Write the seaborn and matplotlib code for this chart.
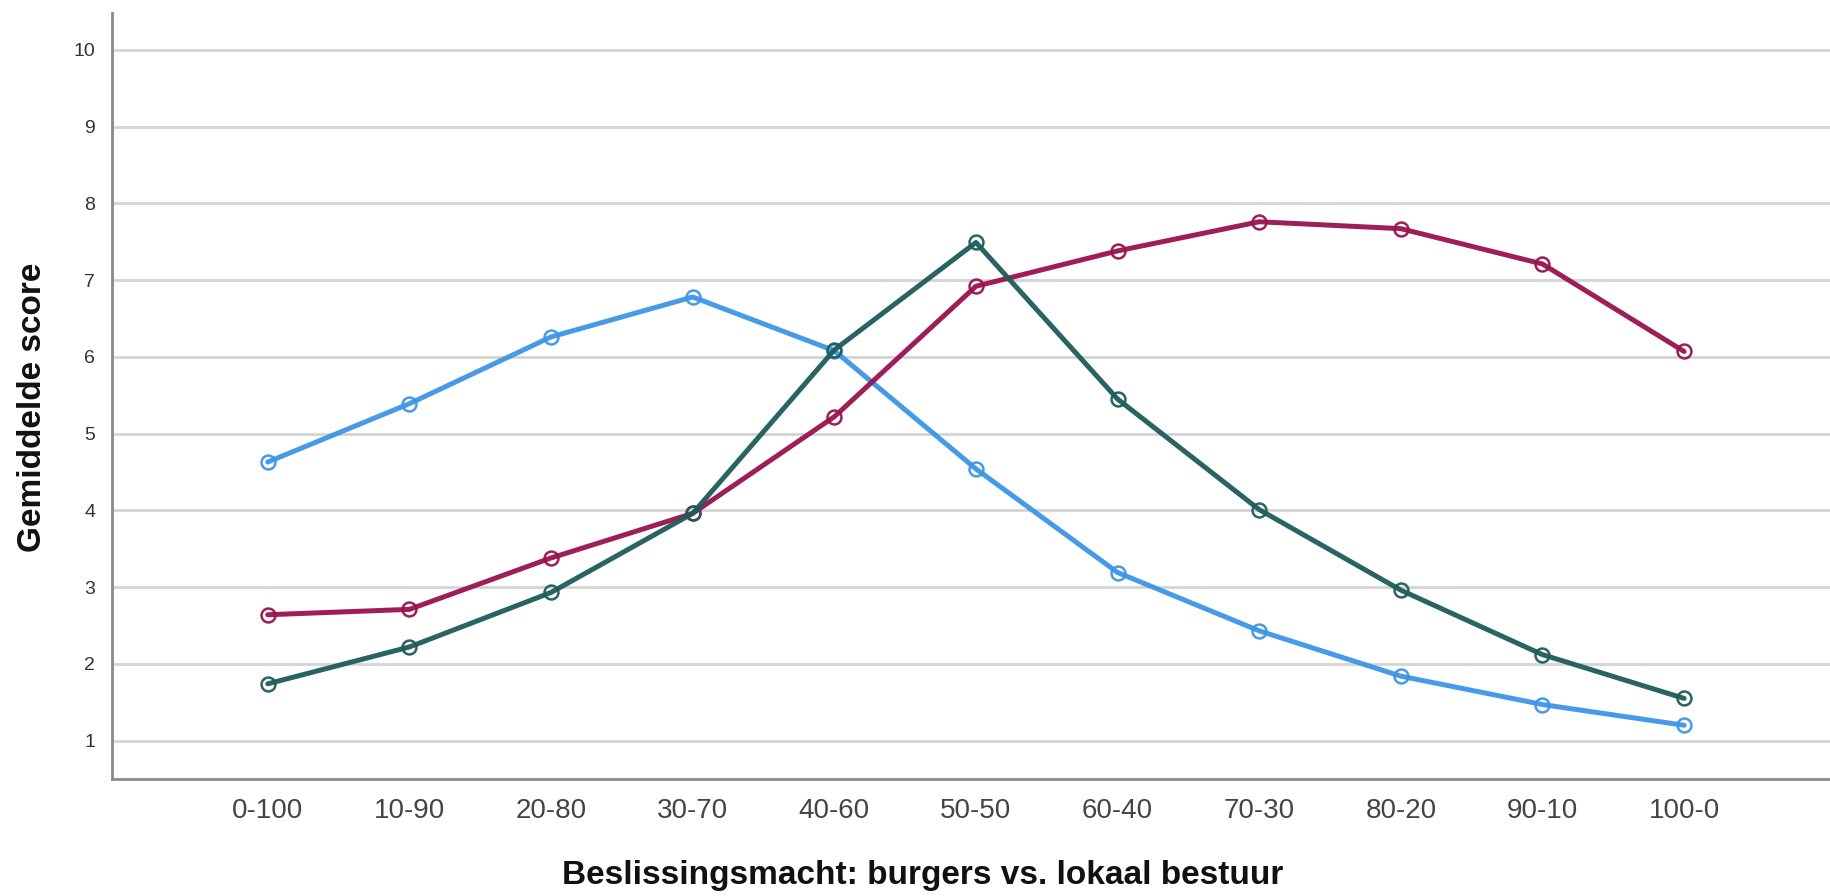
import matplotlib
matplotlib.use("Agg")
import matplotlib.pyplot as plt
import seaborn as sns
import pandas as pd

categories = ["0-100", "10-90", "20-80", "30-70", "40-60", "50-50",
              "60-40", "70-30", "80-20", "90-10", "100-0"]
blue_vals = [4.63, 5.39, 6.26, 6.78, 6.08, 4.54, 3.19, 2.43, 1.84, 1.47, 1.20]
maroon_vals = [2.64, 2.71, 3.38, 3.96, 5.22, 6.92, 7.38, 7.76, 7.67, 7.21, 6.07]
teal_vals = [1.74, 2.22, 2.93, 3.96, 6.09, 7.49, 5.45, 4.01, 2.96, 2.12, 1.55]
series_names = ["Reeks 1", "Reeks 2", "Reeks 3"]
y_ticks = [1, 2, 3, 4, 5, 6, 7, 8, 9, 10]

colors = {"Reeks 1": "#3d95e6", "Reeks 2": "#99124f", "Reeks 3": "#1d5c5a"}

rows = []
for name, vals in zip(series_names, [blue_vals, maroon_vals, teal_vals]):
    for i, (c, v) in enumerate(zip(categories, vals)):
        rows.append({"pos": i, "cat": c, "score": v, "reeks": name})
df = pd.DataFrame(rows)

sns.set_theme(style="white")
plt.rcParams["font.family"] = ["Liberation Sans", "DejaVu Sans"]

fig = plt.figure(figsize=(18.3, 8.96), dpi=100)
ax = fig.add_axes([0.0612, 0.1306, 0.9388, 0.8549])

sns.lineplot(data=df, x="pos", y="score", hue="reeks", palette=colors,
             hue_order=series_names, linewidth=3.6, marker="o",
             markersize=10, markerfacecolor="none", markeredgewidth=1.8,
             legend=False, ax=ax, zorder=3)
for line in ax.lines:
    line.set_markeredgecolor(line.get_color())
    line.set_alpha(0.95)

ax.set_xlim(-1.1, 11.03)
ax.set_ylim(0.5, 10.48)
ax.set_yticks(y_ticks)
ax.set_yticklabels([str(t) for t in y_ticks], fontsize=14, color="#333333")
ax.set_xticks(range(len(categories)))
ax.set_xticklabels(categories, fontsize=20, color="#444444")
ax.tick_params(axis="x", length=0, pad=14)
ax.tick_params(axis="y", length=0, pad=12)

ax.grid(axis="y", color="#d4d4d4", linewidth=2, zorder=0)
ax.grid(axis="x", visible=False)
for s in ["top", "right"]:
    ax.spines[s].set_visible(False)
for s in ["left", "bottom"]:
    ax.spines[s].set_color("#8a8a8a")
    ax.spines[s].set_linewidth(2)

ax.set_xlabel("")
ax.set_ylabel("")
fig.text(0.504, 0.023, "Beslissingsmacht: burgers vs. lokaal bestuur",
         ha="center", va="center", fontsize=24, fontweight="bold", color="#111111")
fig.text(0.018, 0.545, "Gemiddelde score", ha="center", va="center",
         rotation=90, fontsize=24, fontweight="bold", color="#111111")

fig.savefig("out.png", dpi=100)
